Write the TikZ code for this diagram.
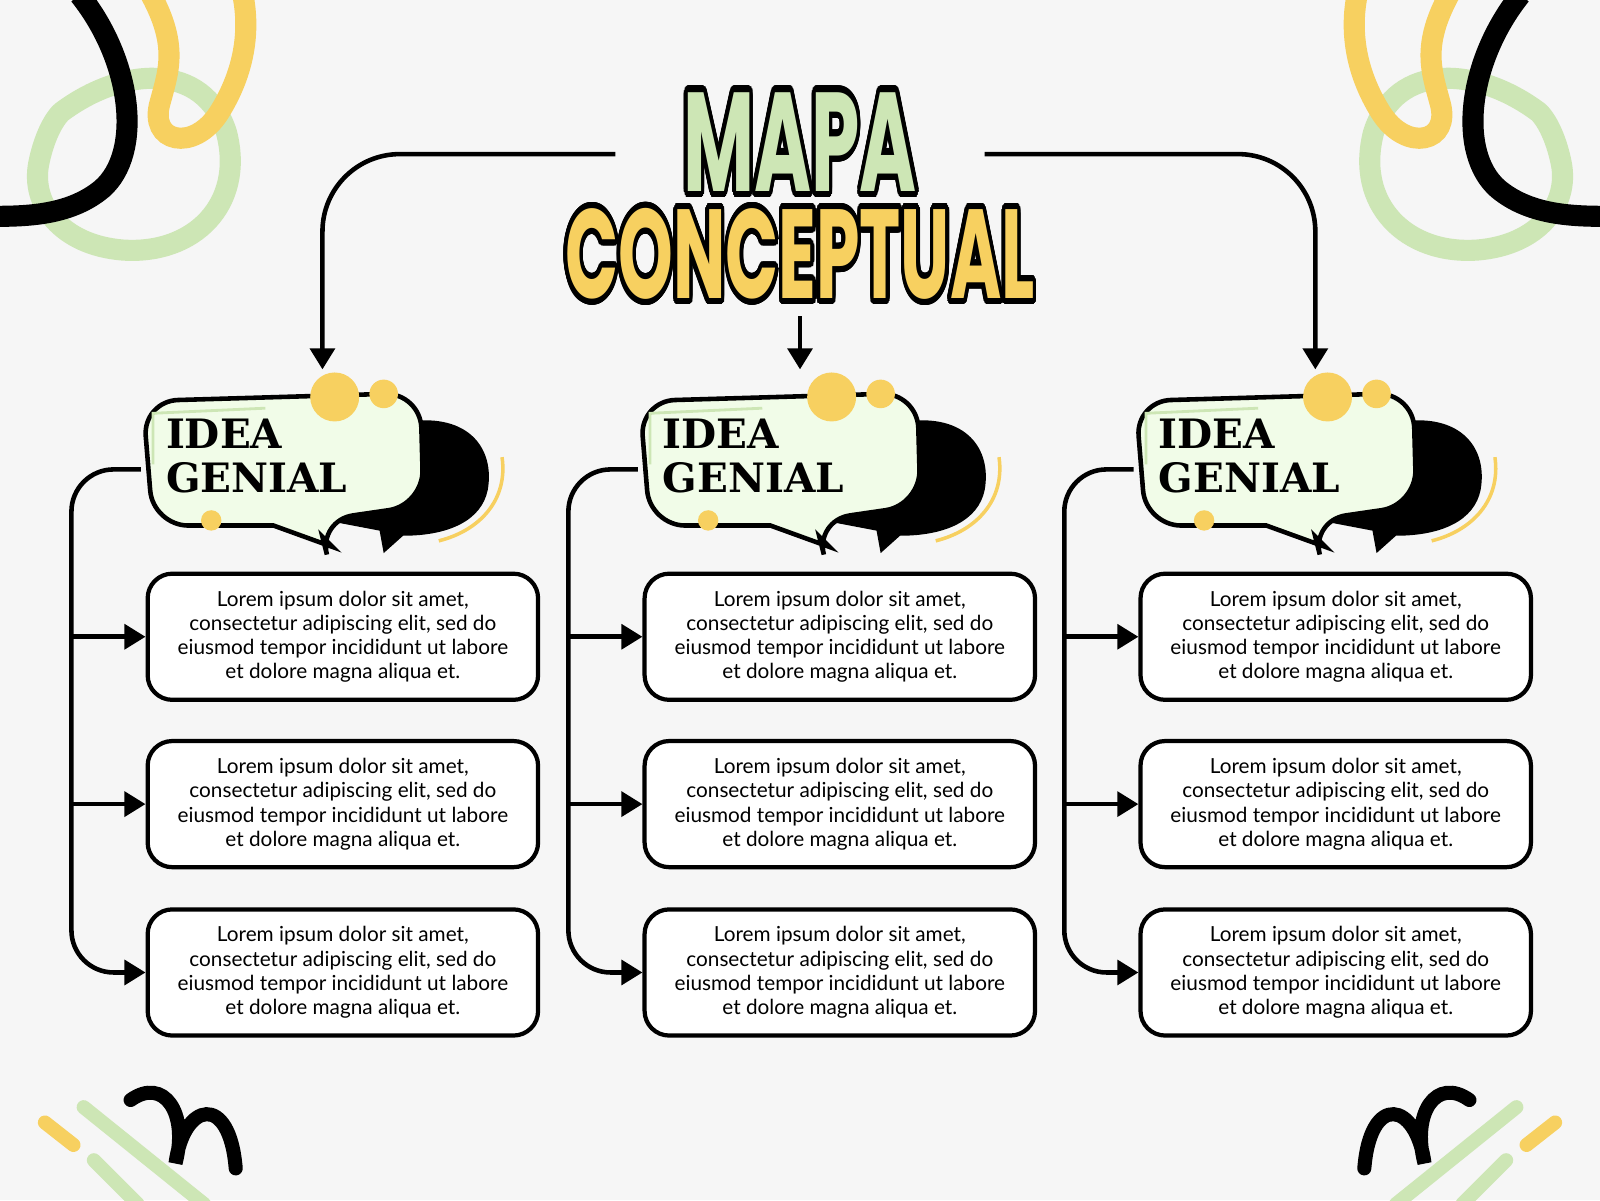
\documentclass[tikz,border=0pt]{standalone}
\usepackage{fontspec}
\setmainfont{Lato}
\newfontfamily\titlefont{Poppins}
\newfontfamily\ideafont{DejaVu Serif}
\usepackage[copies]{contour}
\usetikzlibrary{arrows.meta, positioning, calc}
\definecolor{bgcol}{HTML}{F6F6F6}
\definecolor{ylw}{HTML}{F7D060}
\definecolor{grn}{HTML}{CDE6B5}
\definecolor{bubfill}{HTML}{F1FCE8}
\contourlength{1.8pt}
\contournumber{32}

\begin{document}
\begin{tikzpicture}[
    x=0.0102cm, y=-0.0102cm,
    >={Triangle[length=6pt,width=7pt]},
    flow/.style={->, line width=1.3pt, black, rounded corners=12pt},
    txtbox/.style={draw, line width=1.2pt, fill=white, rounded corners=7pt, minimum width=3.9cm, minimum height=1.26cm, font=\fontsize{5.9}{6.9}\selectfont, align=center},
    deco/.style={line width=6pt, line cap=round},
    idealabel/.style={font=\ideafont\bfseries\fontsize{11.5}{12.5}\selectfont, align=left, inner sep=0pt, anchor=north west}
]
    \fill[bgcol] (0,0) rectangle (1568,1176);
    \useasboundingbox (0,0) rectangle (1568,1176);

    % corner decorations
    \foreach \mir in {1,-1} {
      \begin{scope}[shift={(784,0)}, xscale=\mir, shift={(-784,0)}]
        \draw[deco, grn] (60,110) .. controls (120,65) and (200,60) .. (222,130)
             .. controls (240,200) and (190,250) .. (120,245)
             .. controls (60,240) and (30,200) .. (38,160)
             .. controls (42,140) and (50,120) .. (60,110);
        \draw[deco, black, line cap=butt] (78,-5) .. controls (130,60) and (140,150) .. (100,185)
             .. controls (70,210) and (30,212) .. (-5,212);
        \draw[deco, ylw] (148,-5) .. controls (175,45) and (165,70) .. (157,100)
             .. controls (145,140) and (190,150) .. (215,110)
             .. controls (240,70) and (245,30) .. (238,-5);
        \draw[line width=4pt, black, line cap=round] (128,1078) .. controls (160,1055) and (185,1090) .. (172,1140)
             .. controls (180,1080) and (225,1070) .. (231,1145);
        \draw[line width=4pt, grn, line cap=round] (82,1085) -- (200,1180);
        \draw[line width=4pt, grn, line cap=round] (92,1137) -- (135,1180);
        \draw[line width=4pt, ylw, line cap=round] (44,1100) -- (72,1122);
      \end{scope}
    }

    % title
    \node[font=\titlefont\bfseries\fontsize{40}{40}\selectfont, inner sep=0pt, xscale=0.55] (t1) at (784,142) {\contour{black}{\textcolor{grn}{MAPA}}};
    \node[font=\titlefont\bfseries\fontsize{36}{36}\selectfont, inner sep=0pt, xscale=0.55] (t2) at (784,252) {\contour{black}{\textcolor{ylw}{CONCEPTUAL}}};
    \coordinate (tl) at (603,151);
    \coordinate (tr) at (965,151);
    \coordinate (tm) at (784,310);

    \foreach \c/\dx in {1/0, 2/487, 3/973} {
      \begin{scope}[shift={(\dx,0)}]
        % shadow
        \fill[black] (400,413) .. controls (460,405) and (485,440) .. (478,480)
             .. controls (472,510) and (440,525) .. (395,525)
             -- (376,542) -- (372,520) -- (330,512) -- cycle;
        \draw[ylw, line width=1pt] (492,448) .. controls (498,490) and (470,520) .. (430,530);
        % bubble
        \draw[fill=bubfill, line width=1.3pt, rounded corners=10pt] (140,393) -- (412,385) -- (415,495)
             -- (312,510) [sharp corners] -- (316,526) -- (326,536) -- (268,515) [rounded corners=10pt] -- (150,515) -- cycle;
        \draw[grn, line width=0.8pt] (150,455) -- (150,405) -- (260,400);
        \fill[ylw] (328,389) circle (24) (376,386) circle (14) (207,510) circle (10);
        \node[idealabel] (idea\c) at (162,410) {IDEA\\GENIAL};
        \coordinate (ib\c) at (138,460);
        \coordinate (top\c) at (316,362);
        % text boxes
        \foreach \r/\y in {1/624, 2/788, 3/953} {
          \node[txtbox] (box\c\r) at (336,\y)
            {Lorem ipsum dolor sit amet,\\consectetur adipiscing elit, sed do\\eiusmod tempor incididunt ut labore\\et dolore magna aliqua et.};
        }
        \coordinate (sp\c) at (70,0);
      \end{scope}
      \draw[flow] (ib\c) -- (ib\c -| sp\c) -- (box\c3.west -| sp\c) -- (box\c3.west);
      \draw[flow, rounded corners=0pt] (box\c1.west -| sp\c) -- (box\c1.west);
      \draw[flow, rounded corners=0pt] (box\c2.west -| sp\c) -- (box\c2.west);
    }

    \draw[flow, rounded corners=22pt] (tl) -- (tl -| top1) -- (top1);
    \draw[flow, rounded corners=22pt] (tr) -- (tr -| top3) -- (top3);
    \draw[flow] (tm) -- (tm |- top2);
\end{tikzpicture}
\end{document}
